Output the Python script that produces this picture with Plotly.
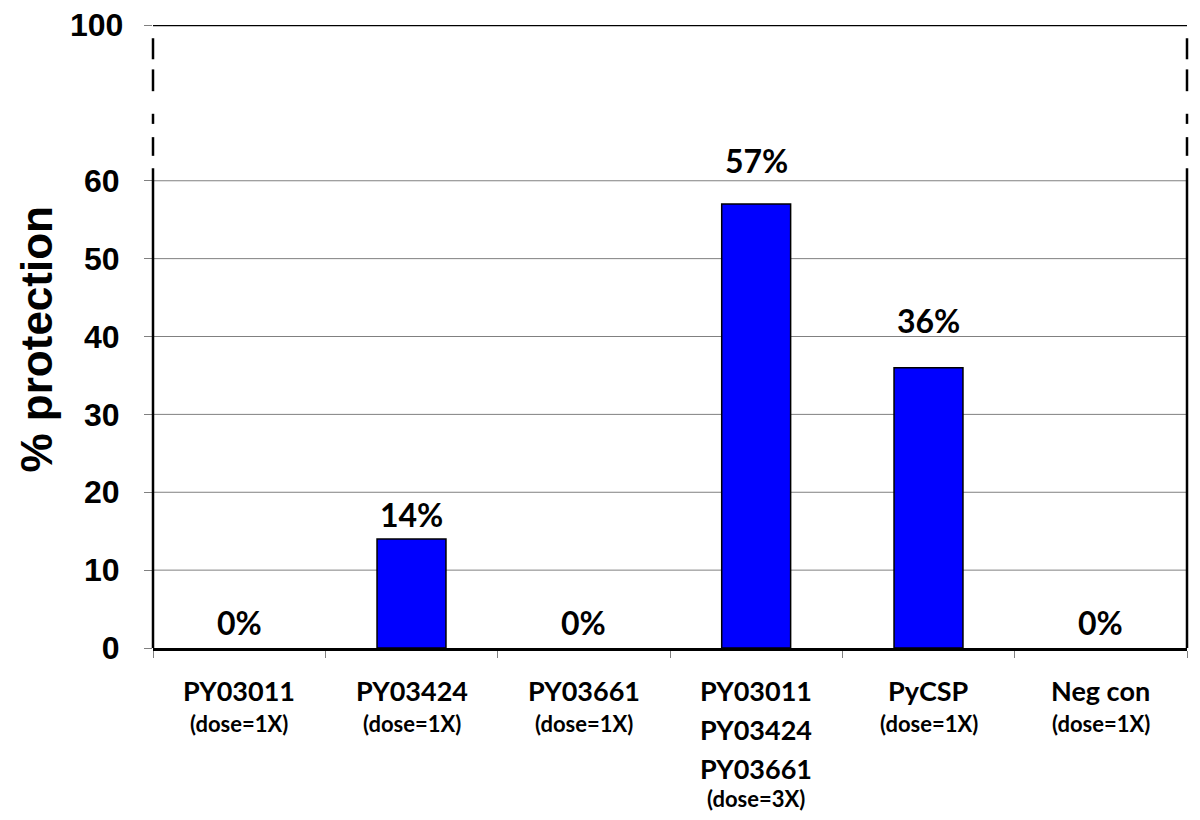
import plotly.graph_objects as go

# ---- data ----
categories = ["PY03011", "PY03424", "PY03661", "PY03011+PY03424+PY03661", "PyCSP", "Neg con"]
protection = [0, 14, 0, 57, 36, 0]
label_lines = [["PY03011"], ["PY03424"], ["PY03661"],
               ["PY03011", "PY03424", "PY03661"], ["PyCSP"], ["Neg con"]]
dose_labels = ["(dose=1X)", "(dose=1X)", "(dose=1X)", "(dose=3X)", "(dose=1X)", "(dose=1X)"]
ytick_vals = [0, 10, 20, 30, 40, 50, 60, 80]
ytick_text = ["0", "10", "20", "30", "40", "50", "60", "100"]   # 80 -> "100" (broken axis)
y_title = "% protection"

# ---- layout/style ----
label_offsets = [12, 11, 12, 30, 34, 12]   # px above bar top (per label placement)
AX_FONT = "Liberation Sans, Arial, sans-serif"
CAT_FONT = "Lato, Carlito, Calibri, sans-serif"

outline_widths = [1.5 if v > 0 else 0 for v in protection]

fig = go.Figure()
fig.add_trace(go.Bar(
    x=categories, y=protection, width=0.4,
    marker=dict(color="#0000FF", line=dict(color="black", width=outline_widths)),
    hoverinfo="skip", showlegend=False,
))

# value labels
for cat, val, off in zip(categories, protection, label_offsets):
    fig.add_annotation(x=cat, y=val, xref="x", yref="y", text=f"<b>{val}%</b>",
                       showarrow=False, yanchor="bottom", yshift=off - 8,
                       font=dict(family=CAT_FONT, size=32, color="black"))

# category labels (multi-line)
for cat, lines, dose in zip(categories, label_lines, dose_labels):
    for k, ln in enumerate(lines):
        fig.add_annotation(x=cat, y=0, xref="x", yref="paper", text=f"<b>{ln}</b>",
                           showarrow=False, yanchor="middle", yshift=-(42 + 39 * k),
                           font=dict(family=CAT_FONT, size=27, color="black"))
    gap = 33 if len(lines) == 1 else 30
    fig.add_annotation(x=cat, y=0, xref="x", yref="paper", text=f"<b>{dose}</b>",
                       showarrow=False, yanchor="middle",
                       yshift=-(42 + 39 * (len(lines) - 1) + gap),
                       font=dict(family=CAT_FONT, size=22, color="black"))

# top tick label of the broken axis drawn as annotation (kept clear of the page edge)
fig.add_annotation(x=0, xref="paper", y=ytick_vals[-1], yref="y", text=f"<b>{ytick_text[-1]}</b>",
                   showarrow=False, xanchor="right", yanchor="middle", xshift=-28,
                   font=dict(family=AX_FONT, size=32, color="black"))

# y title
fig.add_annotation(x=0, xref="paper", y=0.5, yref="paper", text=f"<b>{y_title}</b>",
                   showarrow=False, textangle=-90, xanchor="center", yanchor="middle",
                   xshift=-117, yshift=-3,
                   font=dict(family=AX_FONT, size=44, color="black"))

# frame: top line, solid side segments, dashed break segments
shapes = []
shapes.append(dict(type="line", xref="paper", yref="y", x0=0, x1=1, y0=80, y1=80,
                   line=dict(color="black", width=2.5)))
for xp in (0, 1):
    shapes.append(dict(type="line", xref="paper", yref="y", x0=xp, x1=xp, y0=0, y1=61.6,
                       line=dict(color="black", width=2.5)))
    for a, b in [(78.3, 75.6), (74.3, 71.5), (68.6, 67.3), (65.6, 63.2)]:
        shapes.append(dict(type="line", xref="paper", yref="y", x0=xp, x1=xp, y0=a, y1=b,
                           line=dict(color="black", width=2.5)))
fig.update_layout(shapes=shapes)

# page body has an 8px margin: size/margins compensate so the plot area lands
# at x 153..1187, y 25..648 in the window
fig.update_layout(
    width=1184, height=804,
    margin=dict(l=145, r=5, t=17, b=164),
    paper_bgcolor="white", plot_bgcolor="white",
    xaxis=dict(type="category", showticklabels=False, ticks="outside", tickson="boundaries",
               ticklen=7, tickcolor="#808080", tickwidth=1,
               showline=True, linecolor="black", linewidth=2.5, showgrid=False,
               zeroline=False, range=[-0.5, 5.5]),
    yaxis=dict(range=[0, 80], tickvals=ytick_vals, ticktext=ytick_text[:-1] + [""],
               ticks="outside", ticklen=8, tickcolor="#808080", tickwidth=1,
               ticklabelstandoff=18,
               tickfont=dict(family=AX_FONT, size=32, color="black", weight="bold"),
               showgrid=False, zeroline=False, showline=False),
)

# gridlines 10..60 (grey)
for v in ytick_vals[1:7]:
    fig.add_shape(type="line", xref="paper", yref="y", x0=0, x1=1, y0=v, y1=v,
                  line=dict(color="#808080", width=1), layer="below")

fig.write_html("out.html")
